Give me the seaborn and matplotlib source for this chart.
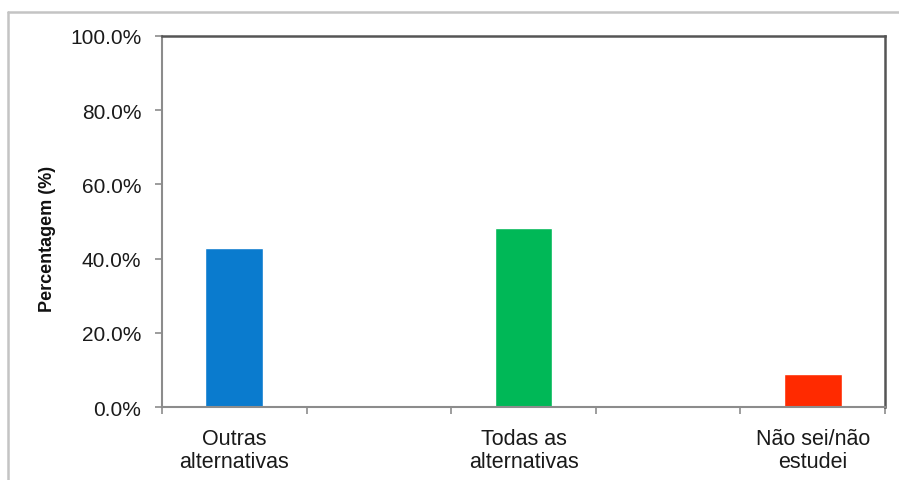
import matplotlib
matplotlib.use("Agg")
import matplotlib.pyplot as plt
from matplotlib.lines import Line2D
from matplotlib.ticker import PercentFormatter, FixedLocator
import seaborn as sns
import pandas as pd

# Answer categories (two empty slots keep the wide spacing of the category axis)
categories = ["Outras\nalternativas", "gap1", "Todas as\nalternativas", "gap2", "Não sei/não\nestudei"]
answers = ["Outras\nalternativas", "Todas as\nalternativas", "Não sei/não\nestudei"]
percent = [42.9, 48.2, 9.0]
colors = ["#0A7BCE", "#00B857", "#FF2A00"]
y_ticks = [0, 20, 40, 60, 80, 100]

sns.set_theme(style="white")
plt.rcParams["font.family"] = ["Liberation Sans", "DejaVu Sans"]

df = pd.DataFrame({"resposta": answers, "pct": percent})

fig = plt.figure(figsize=(8.99, 4.81), dpi=100)
ax = fig.add_axes([162 / 899, 1 - 408 / 481, (885 - 162) / 899, (408 - 37) / 481])

sns.barplot(data=df, x="resposta", y="pct", hue="resposta", order=categories,
            hue_order=answers, palette=colors, width=0.4, legend=False,
            saturation=1, ax=ax)

ax.set_xlim(-0.5, len(categories) - 0.5)
ax.set_ylim(0, 100)
ax.yaxis.set_major_locator(FixedLocator(y_ticks))
ax.yaxis.set_major_formatter(PercentFormatter(xmax=100, decimals=1))

# category labels at bar centres, tick marks at category boundaries
ax.set_xticks(range(len(categories)))
ax.set_xticklabels([c if not c.startswith("gap") else "" for c in categories])
ax.set_xticks([i - 0.5 for i in range(len(categories) + 1)], minor=True)
ax.tick_params(axis="x", which="major", length=0, pad=15, labelsize=15.5, labelcolor="#1a1a1a")
ax.tick_params(axis="x", which="minor", bottom=True, length=5, width=1.2, color="#8c8c8c", direction="out")
ax.tick_params(axis="y", left=True, length=5, width=1.2, color="#8c8c8c", direction="out",
               pad=10, labelsize=15, labelcolor="#1a1a1a")
for lbl in ax.get_xticklabels():
    lbl.set_linespacing(1.15)

ax.set_xlabel("")
ax.set_ylabel("Percentagem (%)", fontsize=13, fontweight="bold", color="#111111")
ax.yaxis.set_label_coords(-0.147, 0.455)

for side in ("top", "right"):
    ax.spines[side].set_visible(True)
    ax.spines[side].set_color("#555555")
    ax.spines[side].set_linewidth(1.8)
for side in ("left", "bottom"):
    ax.spines[side].set_color("#8c8c8c")
    ax.spines[side].set_linewidth(1.5)

# light frame around the chart area
fig.add_artist(Line2D([8 / 899, 8 / 899], [0, 1 - 13 / 481], transform=fig.transFigure,
                      color="#c4c4c4", linewidth=1.8))
fig.add_artist(Line2D([8 / 899, 1], [1 - 13 / 481, 1 - 13 / 481], transform=fig.transFigure,
                      color="#c4c4c4", linewidth=1.8))

fig.savefig("out.png", dpi=100)
